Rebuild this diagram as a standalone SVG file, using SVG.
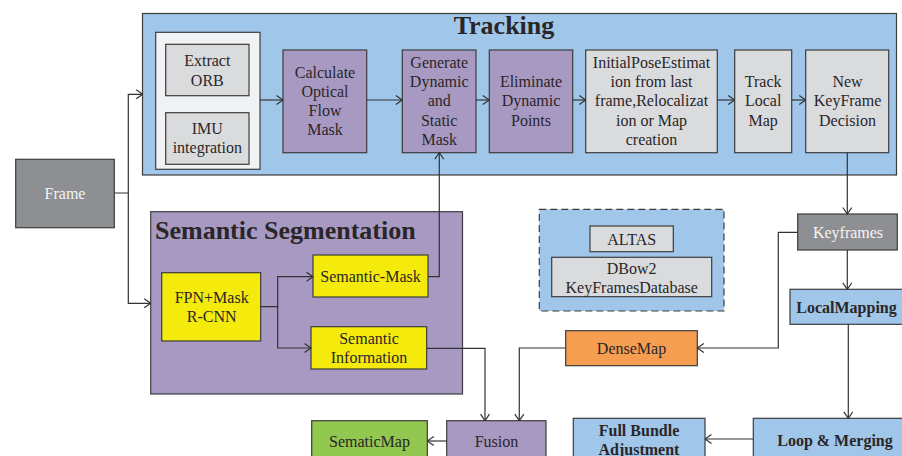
<svg xmlns="http://www.w3.org/2000/svg" width="902" height="456" viewBox="0 0 902 456">
<defs>
<marker id="arr" viewBox="0 0 8 10" refX="7.5" refY="5" markerWidth="8" markerHeight="10" markerUnits="userSpaceOnUse" orient="auto">
<path d="M1,0.5 L7.5,5 L1,9.5" fill="none" stroke="#333" stroke-width="1.2"/>
</marker>
<style>
text{font-family:"Liberation Serif","Times New Roman",serif;font-size:16px;fill:#2a2628;text-anchor:middle}
.b{font-weight:bold}
.t{font-size:26px;font-weight:bold}
.w{fill:#f4f4f4}
rect{stroke:#3c3c3c;stroke-width:1.2}
.blue{fill:#a0c6e9}
.pur{fill:#a899c2}
.gry{fill:#dadbdd}
.dk{fill:#8e8f92}
.yel{fill:#f4ea0c}
.org{fill:#f59e52}
.grn{fill:#92c750}
.con path{fill:none;stroke:#333;stroke-width:1.2;marker-end:url(#arr)}
</style>
</defs>
<g id="tracking">
<rect class="blue" x="142.5" y="13.5" width="754" height="161.5"/>
<text class="t" x="504" y="34">Tracking</text>
</g>
<g id="inputs">
<rect x="155.7" y="32.3" width="104.3" height="137" fill="#f1f2f4"/>
</g>
<g id="extract-orb">
<rect class="gry" x="165.7" y="44.3" width="83.3" height="51.4"/>
<text x="207.3" y="65.5">Extract</text><text x="207.3" y="85.5">ORB</text>
</g>
<g id="imu">
<rect class="gry" x="165.7" y="112.7" width="83.3" height="51.6"/>
<text x="207.3" y="134">IMU</text><text x="207.3" y="153">integration</text>
</g>
<g id="optical-flow">
<rect class="pur" x="283" y="50" width="83.7" height="102.7"/>
<text x="325" y="77.5">Calculate</text><text x="325" y="96.8">Optical</text><text x="325" y="116">Flow</text><text x="325" y="135.3">Mask</text>
</g>
<g id="generate-mask">
<rect class="pur" x="402.3" y="50" width="73.7" height="102.7"/>
<text x="439.2" y="68">Generate</text><text x="439.2" y="87.2">Dynamic</text><text x="439.2" y="106.4">and</text><text x="439.2" y="125.6">Static</text><text x="439.2" y="144.8">Mask</text>
</g>
<g id="eliminate">
<rect class="pur" x="489.3" y="50" width="83.4" height="102.7"/>
<text x="531" y="87.2">Eliminate</text><text x="531" y="106.4">Dynamic</text><text x="531" y="125.6">Points</text>
</g>
<g id="initial-pose">
<rect class="gry" x="585.7" y="50" width="131.6" height="102.7"/>
<text x="651.5" y="68">InitialPoseEstimat</text><text x="651.5" y="87.2">ion from last</text><text x="651.5" y="106.4">frame,Relocalizat</text><text x="651.5" y="125.6">ion or Map</text><text x="651.5" y="144.8">creation</text>
</g>
<g id="track-local-map">
<rect class="gry" x="734.7" y="50" width="57" height="102.7"/>
<text x="763.2" y="87.2">Track</text><text x="763.2" y="106.4">Local</text><text x="763.2" y="125.6">Map</text>
</g>
<g id="new-keyframe">
<rect class="gry" x="805.7" y="50" width="83" height="102.7"/>
<text x="847.5" y="87.2">New</text><text x="847.5" y="106.4">KeyFrame</text><text x="847.5" y="125.6">Decision</text>
</g>
<g id="frame">
<rect class="dk" x="15.7" y="159.3" width="98.6" height="68.4"/>
<text class="w" x="65" y="198.5">Frame</text>
</g>
<g id="semantic-segmentation">
<rect class="pur" x="150.7" y="211.7" width="311.8" height="182.3"/>
<text class="t" x="155" y="239" style="text-anchor:start">Semantic Segmentation</text>
</g>
<g id="fpn">
<rect class="yel" x="161.7" y="272.7" width="99" height="68.3"/>
<text x="211.7" y="303">FPN+Mask</text><text x="211.7" y="322">R-CNN</text>
</g>
<g id="semantic-mask">
<rect class="yel" x="313" y="255" width="115" height="42"/>
<text x="370.5" y="282">Semantic-Mask</text>
</g>
<g id="semantic-information">
<rect class="yel" x="311" y="326.7" width="115.7" height="42.3"/>
<text x="369" y="343.6">Semantic</text><text x="369" y="362.6">Information</text>
</g>
<g id="atlas">
<rect fill="#a0c6e9" stroke="#555" stroke-dasharray="7,4" x="539.3" y="209.3" width="184.7" height="101.7"/>
</g>
<g id="altas">
<rect class="gry" x="590" y="226" width="83.3" height="25.7"/>
<text x="631.7" y="244.5">ALTAS</text>
</g>
<g id="dbow2">
<rect class="gry" x="551.7" y="257.3" width="160" height="39.4"/>
<text x="631.7" y="273.6">DBow2</text><text x="631.7" y="292.6">KeyFramesDatabase</text>
</g>
<g id="keyframes">
<rect class="dk" x="797.7" y="214" width="99.6" height="36"/>
<text class="w" x="848" y="237.5">Keyframes</text>
</g>
<g id="local-mapping">
<rect class="blue" x="790" y="289.3" width="114" height="35"/>
<text class="b" x="846.5" y="313">LocalMapping</text>
</g>
<g id="densemap">
<rect class="org" x="565.7" y="330.7" width="131.6" height="35"/>
<text x="631.5" y="353.5">DenseMap</text>
</g>
<g id="fusion">
<rect class="pur" x="446.7" y="420.7" width="99.3" height="40"/>
<text x="496.5" y="446.5">Fusion</text>
</g>
<g id="sematicmap">
<rect class="grn" x="311.7" y="420.7" width="115.6" height="40"/>
<text x="369.5" y="446.5">SematicMap</text>
</g>
<g id="full-bundle-adjustment">
<rect class="blue" x="573.3" y="418.3" width="131.7" height="42"/>
<text class="b" x="639" y="435.5">Full Bundle</text><text class="b" x="639" y="454.5">Adjustment</text>
</g>
<g id="loop-merging">
<rect class="blue" x="753.3" y="418.3" width="150" height="42"/>
<text class="b" x="835" y="445.5">Loop &amp; Merging</text>
</g>
<g id="connectors" class="con">
<path d="M114.3,193 H128.3 V94.3 H142.7"/>
<path d="M128.3,193 V303.3 H150.7"/>
<path d="M260,100 H283"/>
<path d="M366.7,100 H402.3"/>
<path d="M476,100 H489.3"/>
<path d="M572.7,100 H585.7"/>
<path d="M717.3,100 H734.7"/>
<path d="M791.7,100 H805.7"/>
<path d="M260.7,306.7 H277.7 V276.7 H313"/>
<path d="M277.7,306.7 V348 H311"/>
<path d="M428,276.7 H439.3 V152.7"/>
<path d="M426.7,348.3 H485 V420.7"/>
<path d="M565.7,348 H519.3 V420.7"/>
<path d="M847.3,152.7 V214"/>
<path d="M847.3,250 V289.3"/>
<path d="M797.7,232.3 H778.3 V348 H697.3"/>
<path d="M848.3,324.3 V418.3"/>
<path d="M753.3,439 H705"/>
<path d="M446.7,441 H427.3"/>
</g>
</svg>
